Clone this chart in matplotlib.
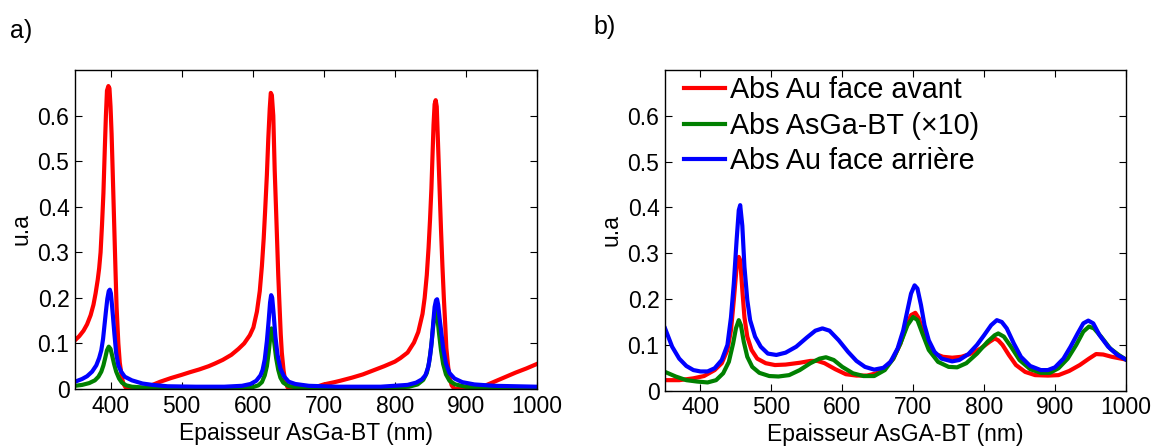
import matplotlib.pyplot as plt

plt.rcParams['font.family'] = ['Liberation Sans', 'DejaVu Sans']

# Panel a) - sharp resonances
a_red_x = [350, 356, 362, 367, 372, 376, 379, 382, 384, 386, 388, 390, 392, 393.5, 395, 397,
           398.5, 400, 401.5, 403, 405, 407, 408.5, 411, 413, 416, 418, 421, 425, 445, 452,
           459, 470, 485, 500, 512, 525, 538, 547, 558, 570, 580, 588, 596, 601, 606, 610, 613,
           615.5, 617.5, 620, 622, 624, 625.5, 627, 629, 631, 633, 634.5, 636, 637.6, 639.5,
           641, 643.5, 646, 649, 653, 678, 688, 700, 715, 723, 740, 755, 770, 785, 800, 808,
           818, 827, 833, 839, 842, 845, 847.5, 849.5, 851.5, 853, 854.5, 856, 857.5, 859, 861,
           863, 865, 867, 869, 871, 872.5, 875, 877, 880, 884, 910, 925, 940, 955, 970, 985,
           1000]
a_red_y = [0.107, 0.116, 0.128, 0.142, 0.162, 0.185, 0.21, 0.24, 0.265, 0.3, 0.36, 0.43, 0.53,
           0.6, 0.655, 0.665, 0.66, 0.62, 0.56, 0.48, 0.37, 0.26, 0.18, 0.1, 0.058, 0.025, 0.012,
           0.004, 0.0, 0.0, 0.004, 0.009, 0.016, 0.024, 0.031, 0.037, 0.043, 0.05, 0.056, 0.064,
           0.075, 0.088, 0.1, 0.118, 0.135, 0.17, 0.215, 0.27, 0.33, 0.39, 0.47, 0.55, 0.615,
           0.65, 0.645, 0.6, 0.48, 0.39, 0.32, 0.25, 0.19, 0.12, 0.08, 0.04, 0.016, 0.004, 0.0,
           0.0, 0.004, 0.01, 0.015, 0.018, 0.025, 0.032, 0.041, 0.05, 0.06, 0.068, 0.08, 0.102,
           0.125, 0.165, 0.2, 0.25, 0.31, 0.37, 0.44, 0.51, 0.58, 0.625, 0.634, 0.62, 0.53,
           0.44, 0.35, 0.27, 0.2, 0.14, 0.09, 0.05, 0.025, 0.008, 0.0, 0.0, 0.006, 0.016, 0.026,
           0.036, 0.045, 0.055]

a_green_x = [350, 360, 370, 378, 383, 387, 390, 392.5, 395, 397.5, 400, 402.5, 405, 408, 412,
             416, 422, 430, 450, 500, 580, 600, 608, 613, 617, 620, 622.5, 624.5, 626.5, 628.5,
             630.5, 633, 636, 639, 643, 650, 660, 680, 780, 820, 832, 840, 845, 848, 851, 853.5,
             856, 858, 860, 862, 865, 868, 872, 877, 885, 900, 930, 1000]
a_green_y = [0.007, 0.009, 0.013, 0.019, 0.027, 0.038, 0.052, 0.068, 0.085, 0.093, 0.088,
             0.072, 0.055, 0.038, 0.023, 0.014, 0.008, 0.005, 0.003, 0.002, 0.002, 0.004, 0.008,
             0.015, 0.03, 0.05, 0.08, 0.11, 0.133, 0.125, 0.1, 0.068, 0.042, 0.025, 0.014,
             0.007, 0.004, 0.002, 0.002, 0.005, 0.01, 0.02, 0.035, 0.056, 0.09, 0.13, 0.165,
             0.173, 0.155, 0.125, 0.085, 0.055, 0.032, 0.018, 0.01, 0.005, 0.003, 0.002]

a_blue_x = [350, 360, 367, 374, 380, 384, 387, 389.5, 391.5, 393.5, 395.5, 397.5, 399, 400.5,
            402, 403.5, 405.5, 408, 411, 415, 420, 430, 445, 459, 480, 520, 560, 585, 597,
            605, 611, 614, 617, 620, 622.5, 624.5, 626, 627.5, 629.5, 632, 635, 639, 644,
            650.7, 660, 679, 720, 780, 818, 830, 838, 843, 847, 849.5, 852, 854, 856, 858,
            859.5, 861, 863, 865, 868, 872, 877, 884, 895, 912, 940, 970, 1000]
a_blue_y = [0.016, 0.022, 0.028, 0.038, 0.052, 0.068, 0.085, 0.11, 0.14, 0.17, 0.198, 0.215,
            0.218, 0.21, 0.185, 0.158, 0.12, 0.078, 0.052, 0.038, 0.027, 0.019, 0.012, 0.009,
            0.006, 0.005, 0.005, 0.007, 0.011, 0.018, 0.03, 0.042, 0.065, 0.105, 0.15, 0.19,
            0.206, 0.2, 0.165, 0.115, 0.075, 0.045, 0.028, 0.016, 0.011, 0.007, 0.005, 0.005,
            0.009, 0.014, 0.021, 0.03, 0.048, 0.071, 0.105, 0.144, 0.18, 0.195, 0.197, 0.185,
            0.155, 0.13, 0.09, 0.056, 0.035, 0.023, 0.015, 0.01, 0.007, 0.006, 0.005]

# Panel b) - broader resonances
b_red_x = [350, 370, 390, 405, 420, 430, 438, 443, 447, 451, 454, 456, 459, 462, 466, 472, 480,
           492, 505, 520, 540, 555, 565, 575, 590, 605, 620, 635, 648, 660, 672, 682, 690, 697,
           703, 708, 713, 720, 730, 742, 755, 768, 780, 795, 808, 815, 820, 826, 835, 845, 858,
           872, 890, 905, 920, 935, 948, 958, 968, 980, 1000]
b_red_y = [0.023, 0.023, 0.027, 0.032, 0.045, 0.06, 0.089, 0.132, 0.198, 0.27, 0.292, 0.285,
           0.22, 0.16, 0.118, 0.089, 0.07, 0.06, 0.056, 0.057, 0.061, 0.065, 0.065, 0.06, 0.047,
           0.036, 0.033, 0.033, 0.038, 0.049, 0.07, 0.103, 0.14, 0.165, 0.17, 0.158, 0.132,
           0.103, 0.081, 0.074, 0.072, 0.074, 0.08, 0.092, 0.107, 0.114, 0.11, 0.1, 0.078,
           0.056, 0.041, 0.034, 0.033, 0.034, 0.043, 0.056, 0.07, 0.08, 0.079, 0.074, 0.068]

b_green_x = [350, 365, 380, 395, 410, 422, 432, 440, 446, 450, 454, 457, 461, 466, 473, 483, 497,
             510, 525, 540, 555, 568, 577, 588, 600, 615, 630, 645, 660, 672, 682, 692, 700,
             706, 713, 722, 735, 750, 762, 775, 790, 805, 815, 820, 828, 838, 850, 865, 880,
             893, 905, 918, 930, 940, 948, 955, 965, 978, 990, 1000]
b_green_y = [0.041, 0.031, 0.023, 0.02, 0.018, 0.023, 0.038, 0.063, 0.103, 0.136, 0.154, 0.143,
             0.107, 0.074, 0.052, 0.039, 0.032, 0.031, 0.034, 0.045, 0.06, 0.07, 0.073, 0.067,
             0.052, 0.038, 0.032, 0.032, 0.045, 0.07, 0.103, 0.143, 0.161, 0.154, 0.125, 0.089,
             0.063, 0.052, 0.051, 0.06, 0.081, 0.107, 0.121, 0.125, 0.118, 0.096, 0.067, 0.047,
             0.039, 0.039, 0.049, 0.07, 0.1, 0.129, 0.14, 0.136, 0.118, 0.092, 0.078, 0.068]

b_blue_x = [350, 360, 370, 380, 390, 400, 410, 420, 430, 438, 443, 447, 451, 454, 456, 459, 462,
            466, 470, 477, 485, 495, 507, 520, 535, 550, 562, 572, 582, 595, 608, 620, 632, 645,
            658, 668, 678, 686, 692, 697, 702, 706, 711, 716, 722, 730, 740, 755, 765, 778, 790,
            800, 810, 818, 825, 832, 842, 852, 865, 880, 890, 900, 912, 922, 932, 940, 947, 954,
            963, 975, 988, 1000]
b_blue_y = [0.136, 0.096, 0.07, 0.054, 0.045, 0.042, 0.042, 0.049, 0.067, 0.1, 0.16, 0.234,
            0.33, 0.394, 0.405, 0.36, 0.27, 0.198, 0.154, 0.118, 0.096, 0.081, 0.078, 0.083,
            0.096, 0.116, 0.131, 0.136, 0.131, 0.11, 0.085, 0.065, 0.052, 0.046, 0.05, 0.063,
            0.092, 0.132, 0.176, 0.212, 0.23, 0.223, 0.187, 0.143, 0.11, 0.085, 0.07, 0.064,
            0.067, 0.08, 0.1, 0.121, 0.143, 0.154, 0.15, 0.136, 0.103, 0.074, 0.054, 0.045,
            0.045, 0.051, 0.07, 0.096, 0.125, 0.147, 0.153, 0.147, 0.121, 0.096, 0.078, 0.068]

labels = ["Abs Au face avant", "Abs AsGa-BT (\u00d710)", "Abs Au face arri\u00e8re"]
yticks = [0, 0.1, 0.2, 0.3, 0.4, 0.5, 0.6]
xticks = [400, 500, 600, 700, 800, 900, 1000]

fig = plt.figure(figsize=(11.52, 4.46), dpi=100)
ax_a = fig.add_axes([0.0651, 0.1278, 0.401, 0.715])
ax_b = fig.add_axes([0.5773, 0.124, 0.400, 0.719])

panels = [
    (ax_a, a_red_x, a_red_y, a_green_x, a_green_y, a_blue_x, a_blue_y, "Epaisseur AsGa-BT (nm)"),
    (ax_b, b_red_x, b_red_y, b_green_x, b_green_y, b_blue_x, b_blue_y, "Epaisseur AsGA-BT (nm)"),
]

for ax, rx, ry, gx, gy, bx, by, xlab in panels:
    ax.plot(rx, ry, color="red", lw=3, label=labels[0])
    ax.plot(gx, gy, color="green", lw=3, label=labels[1])
    ax.plot(bx, by, color="blue", lw=3, label=labels[2])
    ax.set_xlim(350, 1000)
    ax.set_ylim(0, 0.7)
    ax.set_xticks(xticks)
    ax.set_yticks(yticks)
    ax.set_yticklabels(["0", "0.1", "0.2", "0.3", "0.4", "0.5", "0.6"])
    ax.tick_params(direction="in", top=True, right=True, length=5, labelsize=16.5, pad=4)
    ax.set_xlabel(xlab, fontsize=16.5, labelpad=3)
    ax.set_ylabel("u.a", fontsize=16.5, labelpad=4)
    for s in ax.spines.values():
        s.set_linewidth(1.0)

ax_b.legend(loc="upper left", bbox_to_anchor=(0.016, 1.016), frameon=False, fontsize=20.7,
            handlelength=1.42, handletextpad=0.17, labelspacing=0.26, borderaxespad=0)

fig.text(0.009, 0.93, "a)", fontsize=18, va="center")
fig.text(0.515, 0.94, "b)", fontsize=18, va="center")

fig.savefig("out.png", dpi=100)
